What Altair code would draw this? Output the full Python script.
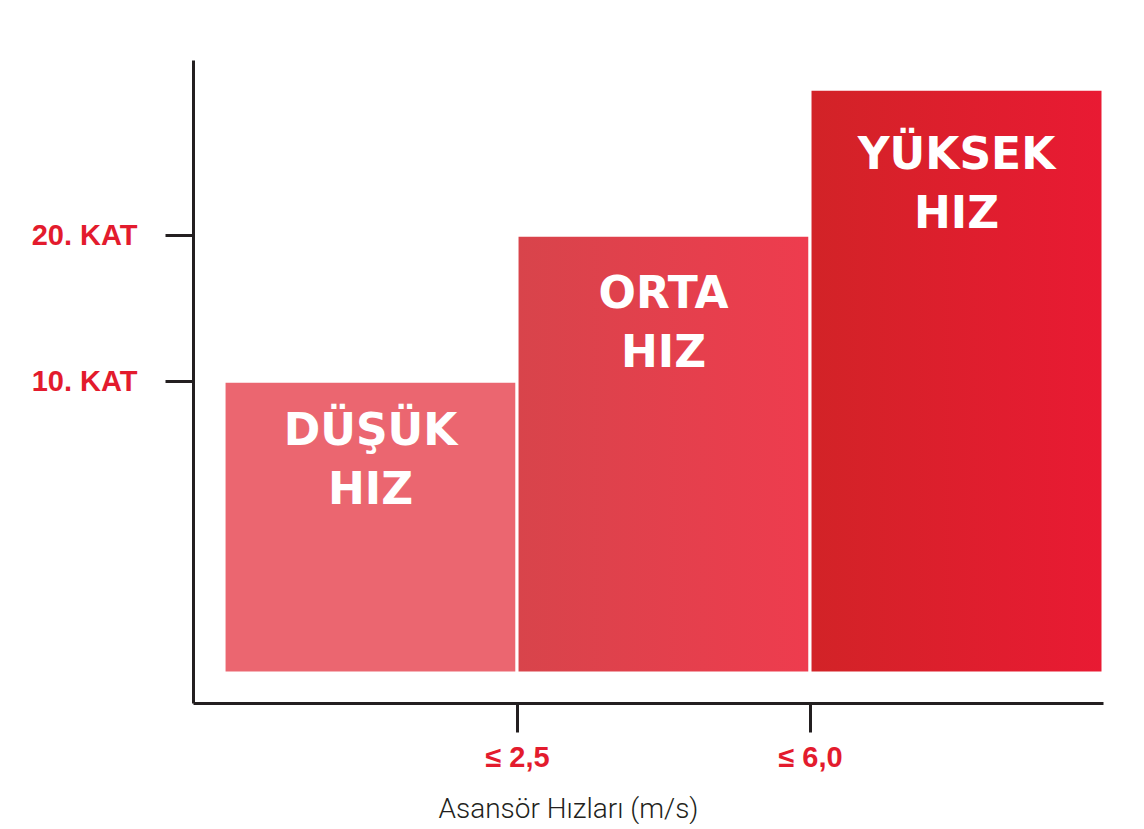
import altair as alt
import pandas as pd

# ---- data ----
speed_classes = ["DÜŞÜK\nHIZ", "ORTA\nHIZ", "YÜKSEK\nHIZ"]
bar_start = [0, 1, 2]
bar_end = [1, 2, 3]
floor_levels = [10, 20, 30]
bar_base = [-10, -10, -10]
x_tick_values = [1, 2]
x_tick_labels = ["≤ 2,5", "≤ 6,0"]
y_tick_values = [10, 20]
y_tick_labels = ["10. KAT", "20. KAT"]

# ---- styles ----
left_colors = ["#EB6670", "#D8444B", "#D22327"]
right_colors = ["#EB6670", "#EE3C4E", "#E91A33"]
label_dy = [64, 73, 80]
RED = "#E31B2D"
DARK = "#231F20"

df = pd.DataFrame({
    "idx": list(range(len(speed_classes))),
    "label": speed_classes,
    "x0": bar_start,
    "x1": bar_end,
    "base": bar_base,
    "value": floor_levels,
})


def expr_for(values, labels):
    parts = [f"datum.value == {v} ? '{l}' : " for v, l in zip(values, labels)]
    return "".join(parts) + "''"


x_scale = alt.Scale(domain=[-0.106, 3.0], nice=False, zero=False)
y_scale = alt.Scale(domain=[-12.05, 32], nice=False, zero=False)

x_axis = alt.Axis(
    values=x_tick_values,
    labelExpr=expr_for(x_tick_values, x_tick_labels),
    title="Asansör Hızları (m/s)",
    grid=False,
    domainColor=DARK, domainWidth=3,
    tickColor=DARK, tickWidth=3, tickSize=29,
    labelFont="Liberation Sans", labelFontWeight="bold", labelFontSize=29,
    labelColor=RED, labelPadding=11, labelFlush=False,
    titleFont="Roboto", titleFontWeight=300, titleFontSize=28, titleColor=DARK,
    titleX=375, titleY=114, titleAlign="center", titleBaseline="alphabetic",
)
y_axis = alt.Axis(
    values=y_tick_values,
    labelExpr=expr_for(y_tick_values, y_tick_labels),
    title=None,
    grid=False,
    domainColor=DARK, domainWidth=3,
    tickColor=DARK, tickWidth=3, tickSize=28,
    labelFont="Liberation Sans", labelFontWeight="bold", labelFontSize=29,
    labelColor=RED, labelPadding=28, labelBaseline="middle",
)

base = alt.Chart(df)
layers = []
for i in range(len(speed_classes)):
    grad = alt.LinearGradient(
        gradient="linear",
        stops=[alt.GradientStop(color=left_colors[i], offset=0),
               alt.GradientStop(color=right_colors[i], offset=1)],
        x1=0, x2=1, y1=0, y2=0,
    )
    rect = base.transform_filter(alt.datum.idx == i).mark_rect(
        fill=grad, stroke="white", strokeWidth=3
    ).encode(
        x=alt.X("x0:Q", scale=x_scale, axis=x_axis),
        x2="x1:Q",
        y=alt.Y("value:Q", scale=y_scale, axis=y_axis),
        y2="base:Q",
    )
    txt = base.transform_filter(alt.datum.idx == i).transform_calculate(
        xc="(datum.x0 + datum.x1) / 2"
    ).mark_text(
        lineBreak="\n", lineHeight=59, font="DejaVu Sans", fontWeight="bold",
        fontSize=44, color="white", align="center", baseline="alphabetic",
        dy=label_dy[i],
    ).encode(
        x=alt.X("xc:Q", scale=x_scale, axis=x_axis),
        y=alt.Y("value:Q", scale=y_scale, axis=y_axis),
        text="label:N",
    )
    layers += [rect, txt]

chart = alt.layer(*layers).properties(
    width=910, height=643,
    autosize=alt.AutoSizeParams(type="none"),
    padding={"left": 185, "top": 52, "right": 25, "bottom": 121},
    background="white",
).configure_view(stroke=None)

chart.save("out.html", embed_options={"renderer": "svg", "actions": False})
